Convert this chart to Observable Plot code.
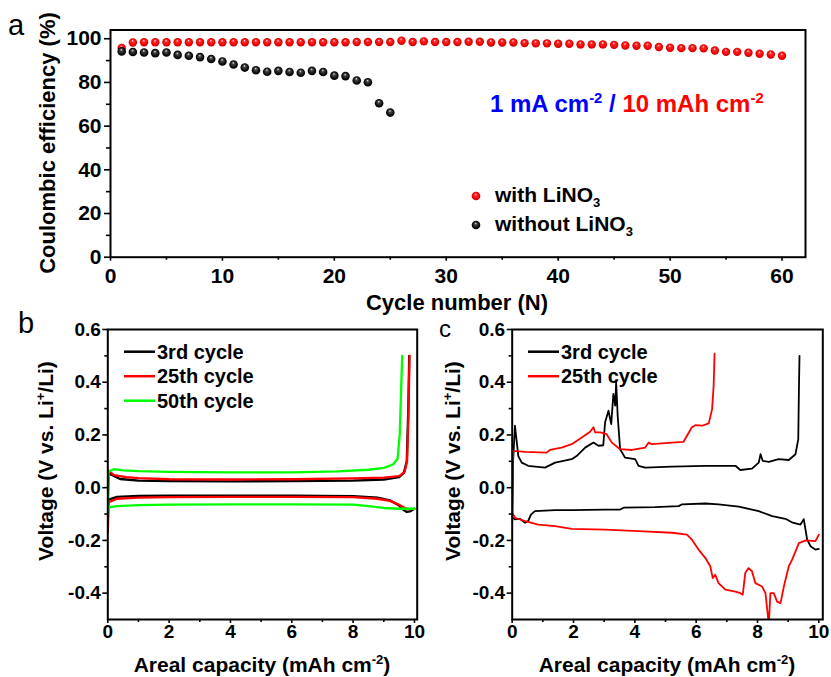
<!DOCTYPE html>
<html><head><meta charset="utf-8">
<script src="https://cdn.jsdelivr.net/npm/d3@7"></script>
<script src="https://cdn.jsdelivr.net/npm/@observablehq/plot@0.6"></script>
<style>
body{margin:0;background:#fff}
#wrap{position:relative;width:831px;height:677px;overflow:hidden;background:#fff}
#wrap svg{position:absolute}
</style>
</head><body><div id="wrap"></div>
<script>
// ---------- Panel a data ----------
const ceWithLiNO3 = [95.8,
  98.3,98.4,98.4,98.4,98.4,98.4,98.4,98.4,98.4,98.4,98.4,98.4,98.4,98.4,98.4,98.4,98.4,98.4,98.4,98.4,
  98.5,98.5,98.5,98.5,99.1,98.5,98.8,98.5,98.5,98.5,98.6,98.6,98.3,98.3,98.3,98.0,97.9,97.9,97.7,97.7,
  97.4,97.4,97.4,97.2,96.9,96.8,96.8,96.2,95.9,95.7,95.7,95.6,94.6,94.0,94.0,93.6,93.1,92.8,92.2];
const ceWithoutLiNO3 = [94.2,93.9,93.7,93.4,93.7,92.6,92.2,91.6,90.7,89.6,88.2,86.8,85.6,84.9,85.3,
  84.8,84.4,85.3,84.8,83.1,82.9,80.9,80.1,70.5,66.2];
const cycleTicks = [0,10,20,30,40,50,60];
const cycleMinor = [5,15,25,35,45,55];
const ceTicks = [0,20,40,60,80,100];
const ceMinor = [10,30,50,70,90];

// ---------- Panel b data (x: mAh cm-2, v: V) ----------
const b3rdPlating = [[0,-0.06],[0.03,-0.045],[0.3,-0.035],[1,-0.031],[2,-0.03],[4,-0.03],[6,-0.03],[8,-0.032],[8.8,-0.038],[9.2,-0.048],[9.5,-0.068],[9.65,-0.085],[9.75,-0.092],[9.85,-0.09],[10,-0.08]];
const b3rdStripping = [[0,-0.06],[0.02,0.06],[0.1,0.05],[0.4,0.033],[1,0.027],[2,0.025],[4,0.024],[6,0.025],[8,0.027],[9,0.031],[9.5,0.04],[9.65,0.055],[9.75,0.1],[9.8,0.3],[9.83,0.5]];
const b25thPlating = [[0,-0.17],[0.03,-0.055],[0.3,-0.042],[1,-0.038],[2,-0.036],[4,-0.035],[6,-0.035],[8,-0.036],[8.8,-0.042],[9.2,-0.05],[9.5,-0.065],[9.7,-0.078],[9.85,-0.082],[10,-0.08]];
const b25thStripping = [[0,-0.08],[0.02,0.065],[0.2,0.048],[0.6,0.04],[1,0.036],[2,0.032],[4,0.031],[6,0.032],[8,0.035],[9,0.038],[9.5,0.044],[9.68,0.06],[9.76,0.1],[9.8,0.25],[9.84,0.5]];
const b50thPlating = [[0,-0.1],[0.03,-0.075],[0.3,-0.07],[1,-0.066],[2,-0.064],[4,-0.063],[6,-0.063],[8,-0.064],[8.5,-0.07],[9,-0.077],[9.5,-0.08],[10,-0.08]];
const b50thStripping = [[0,-0.08],[0.02,0.06],[0.2,0.07],[0.5,0.066],[1,0.063],[2,0.06],[4,0.058],[6,0.058],[7.5,0.062],[8.5,0.068],[9,0.075],[9.3,0.088],[9.45,0.11],[9.52,0.2],[9.56,0.35],[9.6,0.5]];

// ---------- Panel c data ----------
const c3rdStripping = [[0,-0.13],[0.03,0.1],[0.09,0.235],[0.2,0.12],[0.31,0.095],[0.52,0.083],[1.07,0.076],[1.4,0.095],[1.94,0.108],[2.1,0.12],[2.38,0.152],[2.65,0.171],[2.81,0.159],[2.97,0.161],[3.03,0.248],[3.14,0.292],[3.23,0.241],[3.3,0.356],[3.36,0.311],[3.39,0.4],[3.44,0.273],[3.52,0.146],[3.68,0.114],[4.01,0.108],[4.12,0.083],[4.34,0.076],[5.21,0.08],[6.3,0.083],[7.28,0.083],[7.44,0.067],[7.82,0.072],[8.04,0.095],[8.1,0.127],[8.17,0.102],[8.37,0.098],[8.69,0.108],[9.02,0.105],[9.24,0.127],[9.33,0.184],[9.35,0.362],[9.37,0.5]];
const c3rdPlating = [[0,-0.114],[0.09,-0.12],[0.25,-0.118],[0.42,-0.133],[0.52,-0.127],[0.61,-0.102],[0.74,-0.089],[1.4,-0.085],[1.94,-0.085],[3.03,-0.083],[3.52,-0.083],[3.63,-0.076],[4.66,-0.074],[5.43,-0.07],[5.54,-0.063],[6.3,-0.06],[6.73,-0.063],[7.39,-0.072],[8.04,-0.089],[8.48,-0.108],[8.91,-0.118],[9.15,-0.133],[9.4,-0.14],[9.51,-0.12],[9.62,-0.197],[9.73,-0.222],[9.89,-0.235],[10.0,-0.232]];
const c25thStripping = [[0,-0.095],[0.03,0.14],[0.42,0.136],[1.12,0.133],[1.23,0.143],[1.61,0.152],[1.94,0.165],[2.27,0.19],[2.54,0.212],[2.65,0.229],[2.7,0.21],[2.87,0.21],[3.08,0.203],[3.25,0.171],[3.52,0.146],[3.9,0.143],[4.34,0.152],[4.45,0.171],[4.55,0.165],[5.21,0.171],[5.59,0.174],[5.7,0.197],[5.86,0.229],[5.97,0.237],[6.19,0.235],[6.41,0.244],[6.52,0.298],[6.57,0.387],[6.6,0.508]];
const c25thPlating = [[0,-0.095],[0.09,-0.114],[0.42,-0.127],[0.85,-0.14],[1.4,-0.146],[1.94,-0.156],[3.03,-0.159],[4.12,-0.165],[5.21,-0.171],[5.7,-0.178],[5.86,-0.197],[6.08,-0.235],[6.3,-0.267],[6.46,-0.298],[6.54,-0.343],[6.62,-0.33],[6.73,-0.362],[6.95,-0.387],[7.28,-0.394],[7.44,-0.4],[7.52,-0.406],[7.6,-0.324],[7.71,-0.305],[7.82,-0.317],[7.93,-0.362],[8.15,-0.375],[8.26,-0.4],[8.37,-0.52],[8.42,-0.4],[8.53,-0.4],[8.64,-0.432],[8.75,-0.438],[8.86,-0.375],[9.02,-0.298],[9.13,-0.273],[9.35,-0.21],[9.57,-0.2],[9.89,-0.203],[10.0,-0.178]];

const capTicks = [0,2,4,6,8,10];
const capMinor = [1,3,5,7,9];
const vTicks = [-0.4,-0.2,0,0.2,0.4,0.6];
const vMinor = [-0.3,-0.1,0.1,0.3,0.5];

const FONT = "'Liberation Sans', Arial, Helvetica, sans-serif";
const wrap = document.getElementById("wrap");

function richText(sel, x, y, parts, opts = {}) {
  const size = opts.size || 21;
  const t = sel.append("text").attr("x", x).attr("y", y)
    .attr("font-family", FONT).attr("font-weight", "bold")
    .attr("font-size", size).attr("fill", opts.fill || "#000")
    .attr("text-anchor", opts.anchor || "start");
  if (opts.rotate) t.attr("transform", `rotate(-90 ${x} ${y})`);
  let shift = 0;
  for (const p of parts) {
    const ts = t.append("tspan").text(p.t);
    if (p.fill) ts.attr("fill", p.fill);
    if (p.weight) ts.attr("font-weight", p.weight);
    let target = 0;
    if (p.sup) { ts.attr("font-size", size * 0.62); target = -size * 0.36; }
    if (p.sub) { ts.attr("font-size", size * 0.62); target = size * 0.22; }
    if (target !== shift) { ts.attr("dy", target - shift); shift = target; }
  }
  return t;
}

// ---------- Panel a ----------
const withData = ceWithLiNO3.map((v, i) => ({cycle: i + 1, ce: v}));
const withoutData = ceWithoutLiNO3.map((v, i) => ({cycle: i + 1, ce: v}));

const plotA = Plot.plot({
  width: 831, height: 320,
  marginLeft: 110, marginRight: 26, marginTop: 29.5, marginBottom: 63.3,
  x: {domain: [0, 62.1]},
  y: {domain: [0, 104]},
  style: {fontFamily: FONT, background: "transparent", overflow: "visible", color: "#000"},
  marks: [
    Plot.axisX({ticks: cycleTicks, tickSize: 4, tickPadding: 7, fontSize: 21, fontWeight: "bold", label: null, strokeWidth: 1.6}),
    Plot.axisX({ticks: cycleMinor, tickSize: 3, tickFormat: () => "", label: null, strokeWidth: 1.6}),
    Plot.axisY({ticks: ceTicks, tickSize: 6, tickPadding: 3, fontSize: 21, fontWeight: "bold", label: null, strokeWidth: 1.6}),
    Plot.axisY({ticks: ceMinor, tickSize: 4, tickFormat: () => "", label: null, strokeWidth: 1.6}),
    Plot.frame({stroke: "#000", strokeWidth: 2}),
    Plot.dot(withData, {x: "cycle", y: "ce", r: 4.2, fill: "url(#ballRed)"}),
    Plot.dot(withoutData, {x: "cycle", y: "ce", r: 4.3, fill: "url(#ballBlack)"})
  ]
});
plotA.style.left = "0px"; plotA.style.top = "0px";
wrap.appendChild(plotA);
{
  const s = d3.select(plotA);
  const defs = s.insert("defs", ":first-child");
  const g1 = defs.append("radialGradient").attr("id", "ballRed").attr("cx", "50%").attr("cy", "50%").attr("r", "50%").attr("fx", "45%").attr("fy", "28%");
  g1.append("stop").attr("offset", "0").attr("stop-color", "#ffe4e4");
  g1.append("stop").attr("offset", "0.3").attr("stop-color", "#ff2a2a");
  g1.append("stop").attr("offset", "0.8").attr("stop-color", "#f00000");
  g1.append("stop").attr("offset", "1").attr("stop-color", "#b80000");
  const g2 = defs.append("radialGradient").attr("id", "ballBlack").attr("cx", "50%").attr("cy", "50%").attr("r", "50%").attr("fx", "45%").attr("fy", "28%");
  g2.append("stop").attr("offset", "0").attr("stop-color", "#e8e8e8");
  g2.append("stop").attr("offset", "0.3").attr("stop-color", "#444");
  g2.append("stop").attr("offset", "0.8").attr("stop-color", "#0a0a0a");
  g2.append("stop").attr("offset", "1").attr("stop-color", "#000");

  richText(s, 8, 35, [{t: "a", weight: "normal"}], {size: 29});
  richText(s, 55, 143, [{t: "Coulombic efficiency (%)"}], {size: 22, anchor: "middle", rotate: true});
  richText(s, 457, 310, [{t: "Cycle number (N)"}], {size: 22, anchor: "middle"});
  richText(s, 490, 111.5, [
    {t: "1 mA cm", fill: "#0000ff"}, {t: "-2", sup: true, fill: "#0000ff"}, {t: " / ", fill: "#0000ff"},
    {t: "10 mAh cm", fill: "#ff0000"}, {t: "-2", sup: true, fill: "#ff0000"}
  ], {size: 24});
  s.append("circle").attr("cx", 476).attr("cy", 196).attr("r", 4.3).attr("fill", "url(#ballRed)");
  s.append("circle").attr("cx", 476).attr("cy", 225).attr("r", 4.3).attr("fill", "url(#ballBlack)");
  richText(s, 495, 202, [{t: "with LiNO"}, {t: "3", sub: true}], {size: 21});
  richText(s, 495, 231, [{t: "without LiNO"}, {t: "3", sub: true}], {size: 21});
}

// ---------- Panels b and c ----------
function voltagePlot({width, ml, mr, xmax, series, lw}) {
  const marks = [
    Plot.axisX({ticks: capTicks, tickSize: 4, tickPadding: 1, fontSize: 19, fontWeight: "bold", label: null, strokeWidth: 1.6}),
    Plot.axisX({ticks: capMinor, tickSize: 3, tickFormat: () => "", label: null, strokeWidth: 1.6}),
    Plot.axisY({ticks: vTicks, tickSize: 5, tickPadding: 2, tickFormat: d => d.toFixed(1), fontSize: 19, fontWeight: "bold", label: null, strokeWidth: 1.6}),
    Plot.axisY({ticks: vMinor, tickSize: 3, tickFormat: () => "", label: null, strokeWidth: 1.6})
  ];
  for (const [data, color] of series) {
    marks.push(Plot.line(data, {x: d => d[0], y: d => d[1], stroke: color, strokeWidth: lw, clip: true}));
  }
  marks.push(Plot.frame({stroke: "#000", strokeWidth: 2}));
  return Plot.plot({
    width, height: 367,
    marginLeft: ml, marginRight: mr, marginTop: 19, marginBottom: 58,
    x: {domain: [0, xmax]},
    y: {domain: [-0.5, 0.6]},
    style: {fontFamily: FONT, background: "transparent", overflow: "visible", color: "#000"},
    marks
  });
}

const plotB = voltagePlot({
  width: 425, ml: 107.3, mr: 8.3, xmax: 10.09, lw: 2.3,
  series: [[b3rdPlating, "#000"], [b3rdStripping, "#000"], [b25thPlating, "#ff0000"], [b25thStripping, "#ff0000"], [b50thPlating, "#00ff00"], [b50thStripping, "#00ff00"]]
});
plotB.style.left = "0px"; plotB.style.top = "310px";
wrap.appendChild(plotB);

const plotC = voltagePlot({
  width: 406, ml: 86.7, mr: 8.7, xmax: 10.13, lw: 1.8,
  series: [[c3rdStripping, "#000"], [c3rdPlating, "#000"], [c25thStripping, "#ff0000"], [c25thPlating, "#ff0000"]]
});
plotC.style.left = "425px"; plotC.style.top = "310px";
wrap.appendChild(plotC);

function decorate(svg, opts) {
  const s = d3.select(svg);
  richText(s, opts.letterX, opts.letterY, [{t: opts.letter, weight: "normal"}], {size: opts.letterSize});
  richText(s, opts.ylabX, 151, [{t: "Voltage (V vs. Li"}, {t: "+", sup: true}, {t: "/Li)"}], {size: 21, anchor: "middle", rotate: true});
  richText(s, opts.xlabX, 362, [{t: "Areal capacity (mAh cm"}, {t: "-2", sup: true}, {t: ")"}], {size: 21, anchor: "middle"});
  opts.legend.forEach(([label, color], i) => {
    const y = 41.7 + i * 24.5;
    s.append("line").attr("x1", opts.legX).attr("x2", opts.legX + 31).attr("y1", y).attr("y2", y)
      .attr("stroke", color).attr("stroke-width", 2.5);
    richText(s, opts.legX + 33, y + 7, [{t: label}], {size: 20});
  });
}
decorate(plotB, {letter: "b", letterX: 18, letterY: 23, letterSize: 29, ylabX: 53, xlabX: 262, legX: 124,
  legend: [["3rd cycle", "#000"], ["25th cycle", "#ff0000"], ["50th cycle", "#00ff00"]]});
decorate(plotC, {letter: "c", letterX: 14, letterY: 27, letterSize: 24, ylabX: 35, xlabX: 242, legX: 103,
  legend: [["3rd cycle", "#000"], ["25th cycle", "#ff0000"]]});
</script>
</body></html>
